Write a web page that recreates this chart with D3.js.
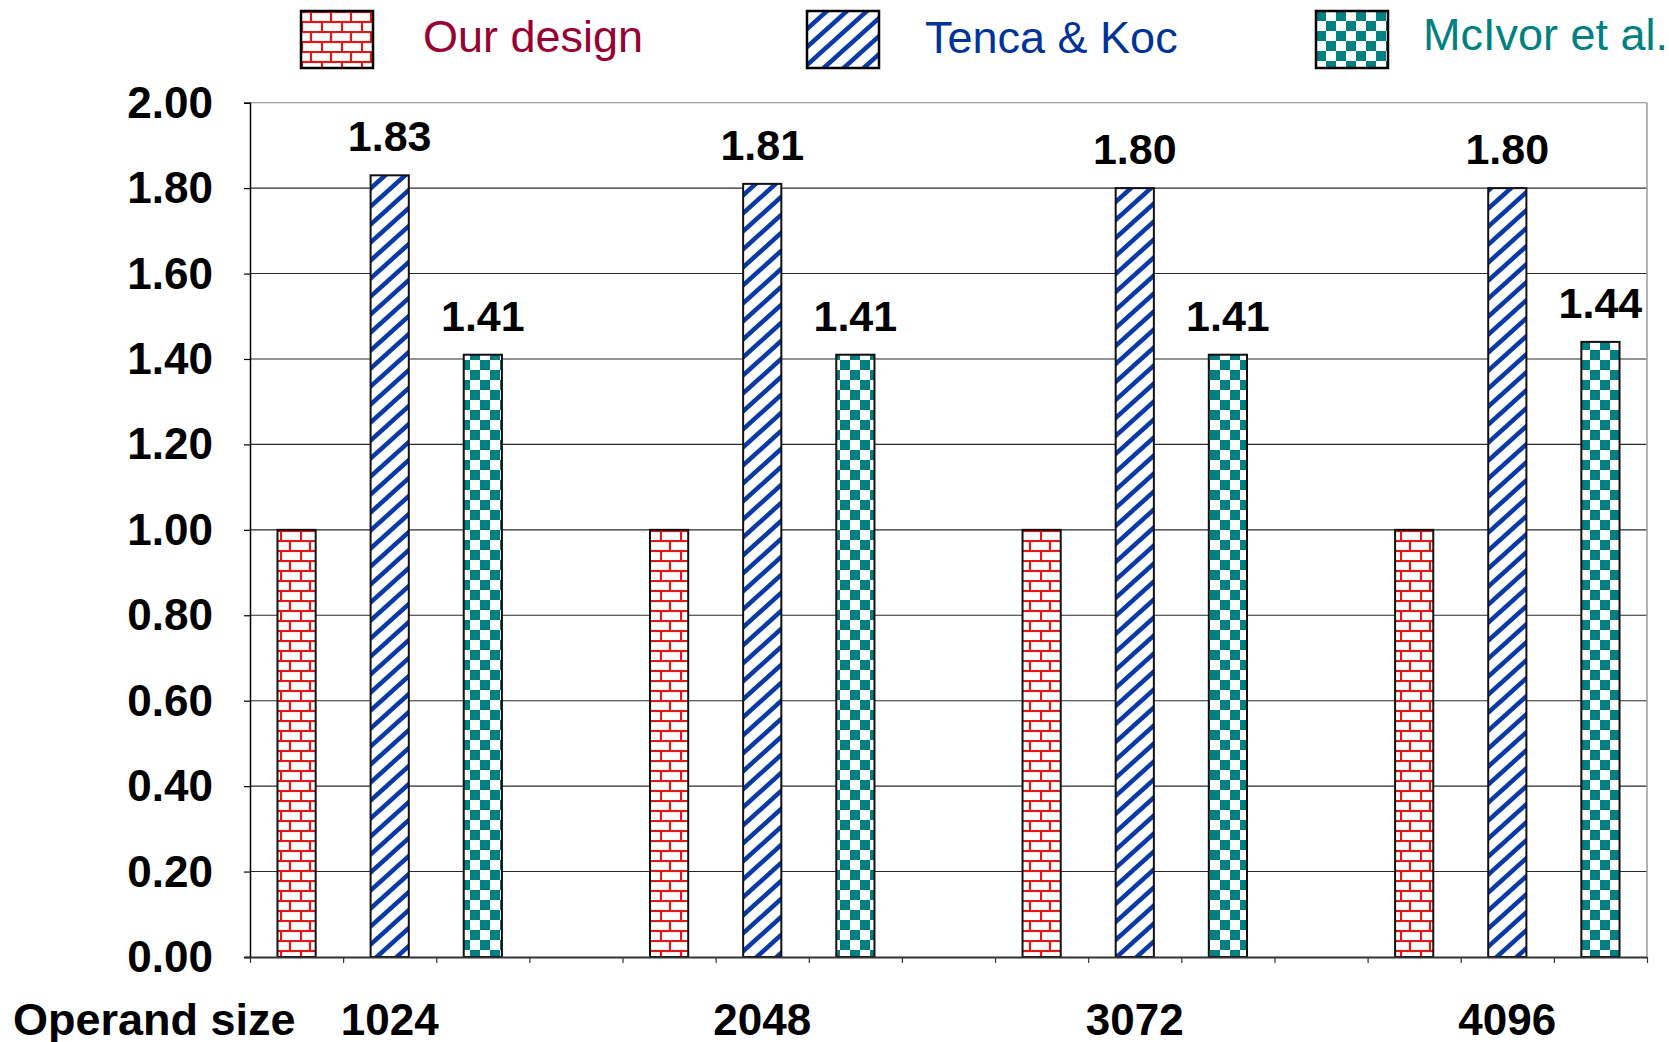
<!DOCTYPE html>
<html>
<head>
<meta charset="utf-8">
<script src="https://cdn.jsdelivr.net/npm/d3@7"></script>
<style>
  html, body { margin: 0; padding: 0; background: #fff; }
  svg { display: block; font-family: "Liberation Sans", Arial, sans-serif; }
</style>
</head>
<body>
<svg id="chart" width="1669" height="1042"></svg>
<script>
// Operand sizes (x categories)
const categories = ["1024", "2048", "3072", "4096"];
// Series names shown in the legend
const seriesNames = ["Our design", "Tenca & Koc", "McIvor et al."];
// Normalised values per operand size
const ourDesign = [1.00, 1.00, 1.00, 1.00];
const tencaKoc = [1.83, 1.81, 1.80, 1.80];
const mcIvor = [1.41, 1.41, 1.41, 1.44];
// Y axis ticks
const yTickValues = [0.0, 0.2, 0.4, 0.6, 0.8, 1.0, 1.2, 1.4, 1.6, 1.8, 2.0];
const xAxisTitle = "Operand size";

const seriesValues = [ourDesign, tencaKoc, mcIvor];
const showLabel = [false, true, true];
const textColors = ["#990033", "#003399", "#008080"];
const patternIds = ["brick", "stripe", "checker"];

const svg = d3.select("#chart");
const defs = svg.append("defs");

// Brick pattern: red mortar lines on white
const brick = defs.append("pattern").attr("id", "brick")
  .attr("patternUnits", "userSpaceOnUse").attr("width", 20).attr("height", 20);
brick.append("rect").attr("width", 20).attr("height", 20).attr("fill", "#fff");
brick.append("g").attr("stroke", "#e01818").attr("stroke-width", 2.2).attr("fill", "none")
  .selectAll("path").data([
    "M0,1 H20", "M0,11 H20", "M10,1 V11", "M1,11 V21", "M1,-1 V1"
  ]).join("path").attr("d", d => d);

// Diagonal stripe pattern: dark blue on white
const sw = 20, sh = 18;
const stripe = defs.append("pattern").attr("id", "stripe")
  .attr("patternUnits", "userSpaceOnUse").attr("width", sw).attr("height", sh);
stripe.append("rect").attr("width", sw).attr("height", sh).attr("fill", "#fff");
stripe.append("g").attr("stroke", "#0a3aa8").attr("stroke-width", 4.6)
  .selectAll("path").data([-sw, 0, sw])
  .join("path").attr("d", dx => `M${dx - sw},${2 * sh} L${dx + 2 * sw},${-sh}`);

// Checkerboard pattern: teal squares on white
const checker = defs.append("pattern").attr("id", "checker")
  .attr("patternUnits", "userSpaceOnUse").attr("width", 20).attr("height", 20);
checker.append("rect").attr("width", 20).attr("height", 20).attr("fill", "#fff");
checker.append("rect").attr("x", 0).attr("y", 0).attr("width", 10).attr("height", 10).attr("fill", "#008080");
checker.append("rect").attr("x", 10).attr("y", 10).attr("width", 10).attr("height", 10).attr("fill", "#008080");

// Plot geometry
const plotLeft = 250, plotRight = 1647, plotTop = 102.7, plotBottom = 957;
const slotsPerGroup = seriesNames.length + 1;
const slotCount = categories.length * slotsPerGroup - 1;

const y = d3.scaleLinear().domain([0, 2]).range([plotBottom, plotTop]);
const slot = d3.scaleBand().domain(d3.range(slotCount)).range([plotLeft, plotRight]).padding(0);
const slotEdge = d3.scaleLinear().domain([0, slotCount]).range([plotLeft, plotRight]);
const barWidth = slot.bandwidth() * 0.41;

// Gridlines
svg.append("g").selectAll("line").data(yTickValues.filter(d => d > 0))
  .join("line")
  .attr("x1", plotLeft).attr("x2", plotRight)
  .attr("y1", d => y(d)).attr("y2", d => y(d))
  .attr("stroke", d => d === 2 ? "#8a8a8a" : "#2a2a2a").attr("stroke-width", 1.1);

// Plot area right border
svg.append("line").attr("x1", plotRight).attr("x2", plotRight).attr("y1", plotTop).attr("y2", plotBottom)
  .attr("stroke", "#9a9a9a").attr("stroke-width", 1.5);

// Bars
const barData = [];
categories.forEach((c, g) => {
  seriesValues.forEach((vals, s) => {
    barData.push({ cat: c, g, s, v: vals[g] });
  });
});

svg.append("g").selectAll("rect").data(barData).join("rect")
  .attr("x", d => slot(d.g * slotsPerGroup + d.s) + (slot.bandwidth() - barWidth) / 2)
  .attr("y", d => y(d.v))
  .attr("width", barWidth)
  .attr("height", d => y(0) - y(d.v))
  .attr("fill", d => `url(#${patternIds[d.s]})`)
  .attr("stroke", "#111").attr("stroke-width", 2);

// Value labels
svg.append("g").selectAll("text").data(barData.filter(d => showLabel[d.s])).join("text")
  .attr("x", d => slot(d.g * slotsPerGroup + d.s) + slot.bandwidth() / 2)
  .attr("y", d => y(d.v) - 24)
  .attr("text-anchor", "middle")
  .attr("font-size", 43).attr("font-weight", "bold").attr("fill", "#000")
  .text(d => d.v.toFixed(2));

// Y axis
const yAxis = svg.append("g").attr("transform", `translate(${plotLeft},0)`)
  .call(d3.axisLeft(y).tickValues(yTickValues).tickFormat(d3.format(".2f"))
    .tickSize(6).tickPadding(31));
yAxis.select(".domain").attr("stroke", "#000").attr("stroke-width", 1.5);
yAxis.selectAll(".tick line").attr("stroke", "#000").attr("stroke-width", 1.2);
yAxis.selectAll(".tick text")
  .attr("font-size", 44).attr("font-weight", "bold").attr("fill", "#000")
  .attr("font-family", "'Liberation Sans', Arial, sans-serif")
  .attr("dy", "0.33em");

// X axis (slot boundary ticks)
const xAxis = svg.append("g").attr("transform", `translate(0,${plotBottom})`)
  .call(d3.axisBottom(slotEdge).tickValues(d3.range(slotCount + 1)).tickFormat("")
    .tickSize(6).tickSizeOuter(0));
xAxis.select(".domain").attr("stroke", "#333").attr("stroke-width", 2)
  .attr("d", `M${plotLeft - 5},0.5H${plotRight}`);
xAxis.selectAll(".tick line").attr("stroke", "#333").attr("stroke-width", 1.2);

// Category labels under the middle bar of each group
svg.append("g").selectAll("text").data(categories).join("text")
  .attr("x", (d, g) => slot(g * slotsPerGroup + 1) + slot.bandwidth() / 2)
  .attr("y", 1035)
  .attr("text-anchor", "middle")
  .attr("font-size", 44).attr("font-weight", "bold").attr("fill", "#000")
  .text(d => d);

svg.append("text").attr("x", 13).attr("y", 1035)
  .attr("font-size", 45).attr("font-weight", "bold").attr("fill", "#000")
  .text(xAxisTitle);

// Legend
const legendX = [301, 807, 1316];
const legendTextDx = [122, 118, 107];
const legendTextY = [41, 42, 39];
const legend = svg.append("g").selectAll("g").data(seriesNames).join("g")
  .attr("transform", (d, i) => `translate(${legendX[i]},11)`);
legend.append("rect").attr("width", 72).attr("height", 57)
  .attr("fill", (d, i) => `url(#${patternIds[i]})`)
  .attr("stroke", "#000").attr("stroke-width", 2.5);
legend.append("text").attr("x", (d, i) => legendTextDx[i]).attr("y", (d, i) => legendTextY[i])
  .attr("font-size", 45).attr("fill", (d, i) => textColors[i])
  .text(d => d);
</script>
</body>
</html>
